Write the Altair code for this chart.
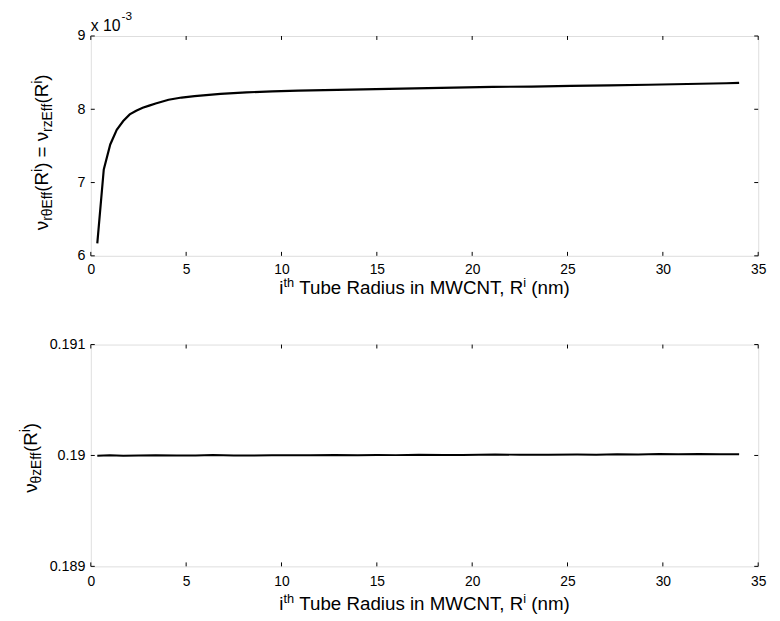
import altair as alt
import pandas as pd

# ---------------- data ----------------
R_TOP = [0.34, 0.68, 1.02, 1.36, 1.70, 2.04, 2.38, 2.72, 3.06, 3.40, 4.08, 4.76,
         5.44, 6.80, 8.16, 9.52, 10.88, 12.92, 14.96, 17.00, 19.04, 21.08, 23.12,
         25.16, 27.20, 29.24, 31.28, 33.32, 34.00]
NU_TOP_E3 = [6.17, 7.18, 7.52, 7.72, 7.84, 7.93, 7.98, 8.02, 8.05, 8.08, 8.13, 8.16,
             8.18, 8.21, 8.23, 8.245, 8.255, 8.265, 8.275, 8.285, 8.295, 8.305, 8.31,
             8.32, 8.325, 8.335, 8.345, 8.355, 8.36]

R_BOT = [0.34, 1.0, 1.7, 2.5, 3.4, 4.5, 5.5, 6.4, 7.5, 8.5, 9.5, 10.5, 11.5, 12.8,
         14.0, 15.0, 16.0, 17.2, 18.5, 19.5, 21.2, 22.5, 24.0, 25.5, 26.5, 27.6,
         28.7, 29.8, 30.8, 31.9, 33.0, 34.0]
NU_BOT = [0.189998, 0.190002, 0.189997, 0.190000, 0.190002, 0.189999, 0.189999,
          0.190004, 0.190000, 0.190000, 0.190001, 0.190001, 0.190002, 0.190005,
          0.190002, 0.190005, 0.190003, 0.190006, 0.190004, 0.190005, 0.190009,
          0.190006, 0.190007, 0.190008, 0.190007, 0.190011, 0.190009, 0.190014,
          0.190010, 0.190013, 0.190011, 0.190010]

X_TICKS = [0, 5, 10, 15, 20, 25, 30, 35]
Y_TICKS_TOP = [6, 7, 8, 9]
Y_TICKS_BOT = [0.189, 0.190, 0.191]

# ---------------- layout ----------------
W = 677
H_TOP = 223
H_BOT = 225
FONT = "Liberation Sans"
FY_MAIN = 19
FY_SMALL = 14
FX_MAIN = 19
FX_SMALL = 13
TICK_LEN = 4

ARIAL = {
    " ": .278, "(": .333, ")": .333, ",": .278, "=": .584, "-": .333,
    "0": .556, "1": .556, "3": .556, "x": .5,
    "a": .556, "b": .556, "d": .556, "e": .556, "f": .278, "h": .556, "i": .222,
    "m": .833, "n": .556, "r": .333, "s": .5, "t": .278, "u": .556, "z": .5,
    "C": .722, "E": .667, "M": .833, "N": .722, "R": .722, "T": .611, "W": .944,
    "ν": .5, "θ": .556,
}


def tw(s, size):
    return sum(ARIAL.get(c, .556) for c in s) * size


def rich(pieces, ax, ay, vertical):
    """pieces: (text, size, shift[, kern]). shift>0 = subscript, <0 = superscript."""
    pieces = [p if len(p) == 4 else (*p, 0) for p in pieces]
    total = sum(tw(t, s) + k for t, s, _, k in pieces)
    layers = []
    off = 0.0
    for t, s, shift, k in pieces:
        lead = len(t) - len(t.lstrip(" "))
        o = off + tw(" " * lead, s)
        if vertical:
            x, y, ang = ax + shift, ay + total / 2 - o, 270
        else:
            x, y, ang = ax - total / 2 + o, ay + shift, 0
        if t.strip():
            layers.append(
                alt.Chart(pd.DataFrame({"t": [t.strip()]}))
                .mark_text(font=FONT, fontSize=s, align="left", baseline="alphabetic",
                           angle=ang, color="black")
                .encode(text="t:N", x=alt.value(x), y=alt.value(y))
            )
        off += tw(t, s) + k
    return layers


def xtitle(ay):
    return rich([("i", FX_MAIN, 0), ("th", FX_SMALL, -7),
                 (" Tube Radius in MWCNT, R", FX_MAIN, 0, -3), ("i", FX_SMALL, -7),
                 (" (nm)", FX_MAIN, 0)], W / 2, ay, vertical=False)


def inward_ticks(xdomain, ydomain, yticks, h):
    xt = pd.DataFrame({"v": X_TICKS})
    yt = pd.DataFrame({"v": yticks})
    xs = alt.Scale(domain=xdomain, nice=False)
    ys = alt.Scale(domain=ydomain, nice=False)
    base_x = alt.Chart(xt).mark_rule(color="black", strokeWidth=1)
    base_y = alt.Chart(yt).mark_rule(color="black", strokeWidth=1)
    return [
        base_x.encode(x=alt.X("v:Q", scale=xs), y=alt.value(h), y2=alt.value(h - TICK_LEN)),
        base_x.encode(x=alt.X("v:Q", scale=xs), y=alt.value(0), y2=alt.value(TICK_LEN)),
        base_y.encode(y=alt.Y("v:Q", scale=ys), x=alt.value(0), x2=alt.value(TICK_LEN)),
        base_y.encode(y=alt.Y("v:Q", scale=ys), x=alt.value(W - TICK_LEN), x2=alt.value(W)),
    ]


def xaxis(pad):
    return alt.Axis(values=X_TICKS, ticks=False, domain=False, grid=False, title=None,
                    labelFont=FONT, labelFontSize=14, labelColor="black",
                    labelPadding=pad, labelFlush=False, format="d")


def yaxis(vals, fmt):
    return alt.Axis(values=vals, ticks=False, domain=False, grid=False, title=None,
                    labelFont=FONT, labelFontSize=14.5, labelColor="black",
                    labelPadding=6, format=fmt)


# ---------------- top panel ----------------
top_df = pd.DataFrame({"r": R_TOP, "nu": NU_TOP_E3})
top_line = alt.Chart(top_df).mark_line(color="black", strokeWidth=2.2).encode(
    x=alt.X("r:Q", scale=alt.Scale(domain=[0, 35], nice=False), axis=xaxis(7)),
    y=alt.Y("nu:Q", scale=alt.Scale(domain=[6, 9], nice=False), axis=yaxis(Y_TICKS_TOP, "d")),
)
top_ytitle = rich([("ν", FY_MAIN, 0), ("rθEff", FY_SMALL, 4), ("(R", FY_MAIN, 0),
                   ("i", FY_SMALL, -7), (")", FY_MAIN, 0), (" = ", FY_MAIN, 0),
                   ("ν", FY_MAIN, 0), ("rzEff", FY_SMALL, 4), ("(R", FY_MAIN, 0),
                   ("i", FY_SMALL, -7), (")", FY_MAIN, 0)], -43, 118, vertical=True)
exp_label = [
    alt.Chart(pd.DataFrame({"t": ["x 10"]})).mark_text(
        font=FONT, fontSize=16, align="left", baseline="alphabetic", color="black"
    ).encode(text="t:N", x=alt.value(0), y=alt.value(-5)),
    alt.Chart(pd.DataFrame({"t": ["-3"]})).mark_text(
        font=FONT, fontSize=12, align="left", baseline="alphabetic", color="black"
    ).encode(text="t:N", x=alt.value(tw("x 10", 16) + 1), y=alt.value(-16)),
]
top = alt.layer(
    top_line,
    *inward_ticks([0, 35], [6, 9], Y_TICKS_TOP, H_TOP),
    *top_ytitle, *exp_label, *xtitle(H_TOP + 39),
).properties(width=W, height=H_TOP)

# ---------------- bottom panel ----------------
bot_df = pd.DataFrame({"r": R_BOT, "nu": NU_BOT})
bot_line = alt.Chart(bot_df).mark_line(color="black", strokeWidth=2).encode(
    x=alt.X("r:Q", scale=alt.Scale(domain=[0, 35], nice=False), axis=xaxis(8)),
    y=alt.Y("nu:Q", scale=alt.Scale(domain=[0.189, 0.191], nice=False),
            axis=yaxis(Y_TICKS_BOT, "")),
)
bot_ytitle = rich([("ν", FY_MAIN, 0), ("θzEff", FY_SMALL, 4), ("(R", FY_MAIN, 0),
                   ("i", FY_SMALL, -7), (")", FY_MAIN, 0)], -55, 115, vertical=True)
bot = alt.layer(
    bot_line,
    *inward_ticks([0, 35], [0.189, 0.191], Y_TICKS_BOT, H_BOT),
    *bot_ytitle, *xtitle(H_BOT + 44),
).properties(width=W, height=H_BOT)

chart = alt.vconcat(top, bot, spacing=37).properties(
    padding={"left": 10, "top": -3, "right": 5, "bottom": 0}
).configure_view(stroke="black", strokeWidth=1).configure(background="white")

chart.save("out.html", embed_options={"renderer": "svg", "actions": False})
